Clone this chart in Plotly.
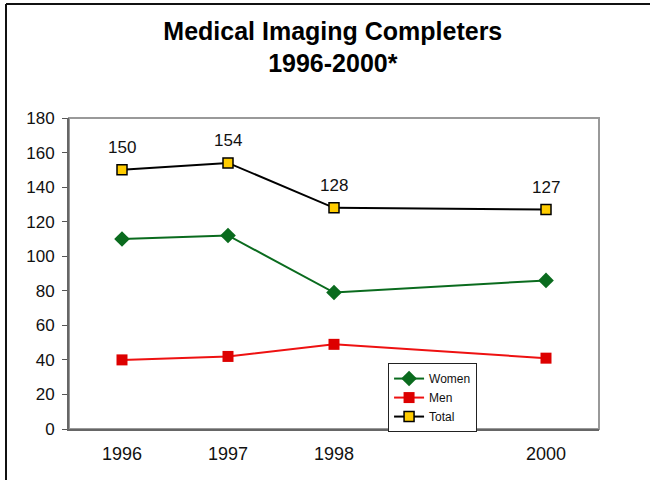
import plotly.graph_objects as go

years = [1996, 1997, 1998, 2000]
tick_labels = ["1996", "1997", "1998", "2000"]
women = [110, 112, 79, 86]
men = [40, 42, 49, 41]
total = [150, 154, 128, 127]

FONT = "Liberation Sans, Arial, sans-serif"

fig = go.Figure()
fig.add_trace(go.Scatter(
    x=years, y=women, name="Women", mode="lines+markers",
    line=dict(color="#0a6b1e", width=2),
    marker=dict(symbol="diamond", size=12, color="#0a6b1e"),
))
fig.add_trace(go.Scatter(
    x=years, y=men, name="Men", mode="lines+markers",
    line=dict(color="#ee1111", width=2),
    marker=dict(symbol="square", size=11, color="#dd0000"),
))
fig.add_trace(go.Scatter(
    x=years, y=total, name="Total", mode="lines+markers",
    line=dict(color="#000000", width=2),
    marker=dict(symbol="square", size=10, color="#ffcc00",
                line=dict(color="#000000", width=1.5)),
))

for xv, yv in zip(years, total):
    fig.add_annotation(x=xv, y=yv, text=str(yv), showarrow=False,
                       yshift=22, font=dict(family=FONT, size=17, color="#111"))

fig.update_layout(
    width=650, height=480,
    margin=dict(l=69, r=51, t=118, b=51),
    paper_bgcolor="white", plot_bgcolor="white",
    title=dict(text="<b>Medical Imaging Completers<br>1996-2000*</b>",
               x=0.512, xanchor="center", y=0.917, yanchor="top",
               font=dict(family=FONT, size=25, color="black")),
    font=dict(family=FONT, size=16, color="#111"),
    showlegend=True,
    legend=dict(x=0.602, y=0.212, xanchor="left", yanchor="top",
                bordercolor="#222", borderwidth=1, bgcolor="white",
                font=dict(family=FONT, size=12, color="#111"),
                tracegroupgap=0, itemwidth=30),
    xaxis=dict(range=[1995.5, 2000.5], tickvals=years, ticktext=tick_labels,
               showgrid=False, zeroline=False, showline=True,
               linecolor="#666", linewidth=2, ticks="",
               tickfont=dict(family=FONT, size=18), ticklabelstandoff=7),
    yaxis=dict(range=[0, 180], dtick=20, showgrid=False, zeroline=False,
               showline=True, linecolor="#666", linewidth=2,
               ticks="outside", ticklen=5, tickcolor="#555",
               tickfont=dict(family=FONT, size=17), ticklabelstandoff=4),
    shapes=[
        dict(type="rect", xref="paper", yref="paper", x0=0, x1=1, y0=0, y1=1,
             line=dict(color="#999", width=2), layer="below"),
        dict(type="line", xref="paper", yref="paper",
             x0=(6 - 69) / 530, x1=(6 - 69) / 530, y0=-51 / 311, y1=(429 - 4) / 311,
             line=dict(color="#111", width=2)),
        dict(type="line", xref="paper", yref="paper",
             x0=(6 - 69) / 530, x1=(652 - 69) / 530, y0=(429 - 4) / 311, y1=(429 - 4) / 311,
             line=dict(color="#111", width=2)),
    ],
)

fig.write_html("out.html", config={"displayModeBar": False},
               post_script="document.body.style.margin='0';")
